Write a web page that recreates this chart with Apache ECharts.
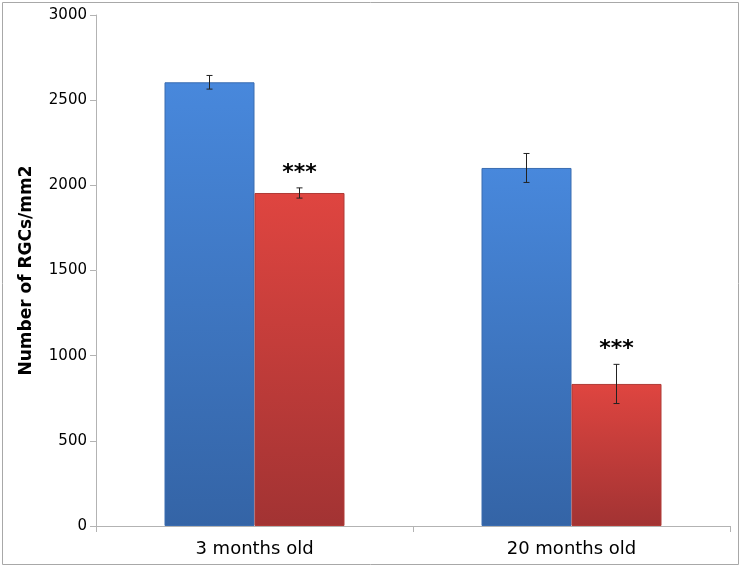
<!DOCTYPE html>
<html><head><meta charset="utf-8">
<script src="https://cdn.jsdelivr.net/npm/echarts@6/dist/echarts.min.js"></script>
<style>html,body{margin:0;padding:0;background:#fff}#c{width:742px;height:568px}</style>
</head><body><div id="c"></div>
<script>
const categories = ['3 months old', '20 months old'];
const youngValues = [2605, 2102];
const youngErrors = [40, 85];
const oldValues = [1955, 834];
const oldErrors = [30, 115];
const oldMarks = ['***', '***'];
const yTicks = [0, 500, 1000, 1500, 2000, 2500, 3000];

const chart = echarts.init(document.getElementById('c'));
const font = 'DejaVu Sans';

function errItem(values, errors, marks, offsetSign) {
  return function (params, api) {
    const i = api.value(0);
    const v = api.value(1);
    const e = api.value(2);
    const base = api.coord([i, v]);
    const x = base[0] + offsetSign * 45;
    const top = api.coord([i, v + e])[1];
    const bot = api.coord([i, v - e])[1];
    const st = { stroke: '#222', lineWidth: 1 };
    const children = [
      { type: 'line', shape: { x1: x, y1: top, x2: x, y2: bot }, style: st },
      { type: 'line', shape: { x1: x - 3, y1: top, x2: x + 3, y2: top }, style: st },
      { type: 'line', shape: { x1: x - 3, y1: bot, x2: x + 3, y2: bot }, style: st }
    ];
    if (marks && marks[params.dataIndex]) {
      children.push({ type: 'text', style: { text: marks[params.dataIndex], x: x, y: top - 4, align: 'center', verticalAlign: 'bottom', font: 'bold 22px ' + font, fill: '#000' } });
    }
    return { type: 'group', children: children };
  };
}

chart.setOption({
  animation: false,
  backgroundColor: '#fff',
  grid: { left: 96, right: 12, top: 15, bottom: 42 },
  xAxis: {
    type: 'category', data: categories,
    axisLine: { lineStyle: { color: '#b3b3b3' } },
    axisTick: { show: true, length: 6, lineStyle: { color: '#b3b3b3' } },
    axisLabel: { color: '#000', fontFamily: font, fontSize: 18, margin: 14 }
  },
  yAxis: {
    type: 'value', min: yTicks[0], max: yTicks[yTicks.length - 1], interval: 500,
    name: 'Number of RGCs/mm2', nameLocation: 'middle', nameGap: 61,
    nameTextStyle: { color: '#000', fontFamily: font, fontSize: 17, fontWeight: 'bold' },
    axisLine: { show: true, lineStyle: { color: '#b3b3b3' } },
    axisTick: { show: true, length: 6, lineStyle: { color: '#b3b3b3' } },
    splitLine: { show: false },
    axisLabel: { color: '#000', fontFamily: font, fontSize: 15, margin: 9, formatter: v => String(v) }
  },
  series: [
    {
      type: 'bar', data: youngValues, barWidth: 90, barGap: '0%',
      itemStyle: {
        color: new echarts.graphic.LinearGradient(0, 0, 0, 1, [{ offset: 0, color: '#4888dc' }, { offset: 1, color: '#3464a6' }]),
        borderColor: '#3a6cb0', borderWidth: 1
      }
    },
    {
      type: 'bar', data: oldValues, barWidth: 90, barGap: '0%',
      itemStyle: {
        color: new echarts.graphic.LinearGradient(0, 0, 0, 1, [{ offset: 0, color: '#df4540' }, { offset: 1, color: '#a23333' }]),
        borderColor: '#b03a36', borderWidth: 1
      }
    },
    {
      type: 'custom', renderItem: errItem(youngValues, youngErrors, null, -1),
      data: youngValues.map((v, i) => [i, v, youngErrors[i]]), z: 10
    },
    {
      type: 'custom', renderItem: errItem(oldValues, oldErrors, oldMarks, 1),
      data: oldValues.map((v, i) => [i, v, oldErrors[i]]), z: 10
    }
  ],
  graphic: [
    { type: 'rect', shape: { x: 2.5, y: 2.5, width: 736, height: 562 }, style: { fill: 'none', stroke: '#a8a8a8', lineWidth: 1 }, silent: true }
  ]
});
</script></body></html>
